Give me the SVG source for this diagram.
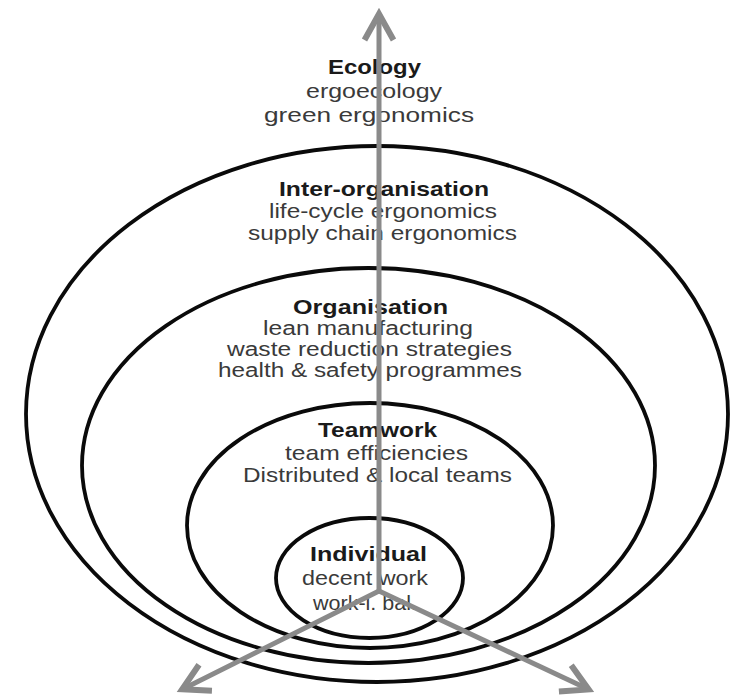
<svg xmlns="http://www.w3.org/2000/svg" width="738" height="700" viewBox="0 0 738 700">
  <defs>
    <style>
      .ring { fill: none; stroke: #0a0a0a; stroke-width: 3.8; }
      .hd { font-family: "Liberation Sans", Arial, sans-serif; font-weight: bold; font-size: 21px; fill: #1a1a1a; text-anchor: middle; }
      .tx { font-family: "Liberation Sans", Arial, sans-serif; font-size: 21px; fill: #3a3a3a; text-anchor: middle; }
      .tt { font-size: 20px; }
      .axis { fill: none; stroke: #8a8a8a; stroke-width: 5; }
    </style>
    <marker id="chev" markerUnits="userSpaceOnUse" viewBox="-32 -20 44 40" markerWidth="44" markerHeight="40" refX="0" refY="0" orient="auto">
      <path d="M-24,-14.5 L2,0 L-24,14.5" fill="none" stroke="#8a8a8a" stroke-width="6" stroke-linejoin="miter" stroke-miterlimit="10"/>
    </marker>
  </defs>
  <rect width="738" height="700" fill="#ffffff"/>

  <g id="ecology">
    <ellipse class="ring" cx="377" cy="414" rx="351" ry="268"/>
    <text class="hd" x="374.5" y="74" textLength="93" lengthAdjust="spacingAndGlyphs">Ecology</text>
    <text class="tx" x="374" y="98" textLength="136" lengthAdjust="spacingAndGlyphs">ergoecology</text>
    <text class="tx" x="369" y="122" textLength="210" lengthAdjust="spacingAndGlyphs">green ergonomics</text>
  </g>

  <g id="inter-organisation">
    <text class="hd" x="384" y="196" textLength="210" lengthAdjust="spacingAndGlyphs">Inter-organisation</text>
    <text class="tx tt" x="383" y="218" textLength="228" lengthAdjust="spacingAndGlyphs">life-cycle ergonomics</text>
    <text class="tx tt" x="382.5" y="240" textLength="269" lengthAdjust="spacingAndGlyphs">supply chain ergonomics</text>
  </g>

  <g id="organisation">
    <ellipse class="ring" cx="368.5" cy="465.5" rx="286.5" ry="197.5"/>
    <text class="hd" x="370.5" y="314" textLength="155" lengthAdjust="spacingAndGlyphs">Organisation</text>
    <text class="tx tt" x="368" y="335" textLength="210" lengthAdjust="spacingAndGlyphs">lean manufacturing</text>
    <text class="tx tt" x="369.5" y="356" textLength="285" lengthAdjust="spacingAndGlyphs">waste reduction strategies</text>
    <text class="tx tt" x="370" y="377" textLength="304" lengthAdjust="spacingAndGlyphs">health &amp; safety programmes</text>
  </g>

  <g id="teamwork">
    <ellipse class="ring" cx="370" cy="525.5" rx="183" ry="122.5"/>
    <text class="hd" x="377.5" y="437" textLength="119" lengthAdjust="spacingAndGlyphs">Teamwork</text>
    <text class="tx" x="376.5" y="460" textLength="183" lengthAdjust="spacingAndGlyphs">team efficiencies</text>
    <text class="tx" x="377.5" y="482" textLength="269" lengthAdjust="spacingAndGlyphs">Distributed &amp; local teams</text>
  </g>

  <g id="individual">
    <ellipse class="ring" cx="369.5" cy="578" rx="93.5" ry="60"/>
    <text class="hd" x="368.5" y="561" textLength="117" lengthAdjust="spacingAndGlyphs">Individual</text>
    <text class="tx" x="365" y="585" textLength="126" lengthAdjust="spacingAndGlyphs">decent work</text>
    <text class="tx" x="365" y="610" textLength="104" lengthAdjust="spacingAndGlyphs">work-l. bal.</text>
  </g>

  <g id="connectors">
    <line class="axis" x1="379" y1="591" x2="379" y2="16" marker-end="url(#chev)"/>
    <line class="axis" x1="379" y1="591" x2="184" y2="688.4" marker-end="url(#chev)"/>
    <line class="axis" x1="379" y1="591" x2="586.8" y2="688.6" marker-end="url(#chev)"/>
  </g>
</svg>
